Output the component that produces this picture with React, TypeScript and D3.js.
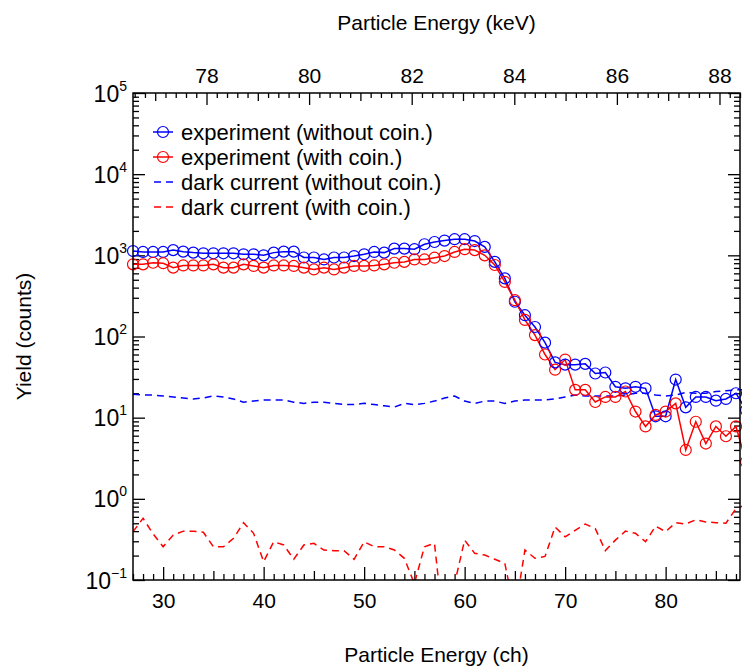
import React, { useEffect, useRef } from "react";
import * as d3 from "d3";

// ---------- data ----------
const channels = [
  27, 28, 29, 30, 31, 32, 33, 34, 35, 36, 37, 38, 39, 40, 41, 42, 43, 44, 45, 46,
  47, 48, 49, 50, 51, 52, 53, 54, 55, 56, 57, 58, 59, 60, 61, 62, 63, 64, 65, 66,
  67, 68, 69, 70, 71, 72, 73, 74, 75, 76, 77, 78, 79, 80, 81, 82, 83, 84, 85, 86,
  87, 88,
];

const expWithout = [
  1130, 1100, 1100, 1100, 1160, 1110, 1080, 1060, 1060, 1060, 1060, 1030, 1030, 1000, 1080, 1110, 1110, 940, 940, 890,
  940, 940, 980, 1030, 1100, 1080, 1210, 1210, 1190, 1370, 1460, 1520, 1580, 1580, 1500, 1270, 830, 520, 268, 183,
  131, 84, 48, 45, 45, 46, 35, 36, 24, 23, 24, 23, 10.4, 10.4, 29.5, 13.4, 18, 18, 16.2, 17,
  20, 12.4,
];

const expWith = [
  775, 775, 810, 800, 705, 750, 750, 750, 775, 705, 705, 775, 740, 705, 750, 750, 740, 705, 670, 705,
  670, 705, 740, 740, 750, 775, 810, 830, 890, 890, 935, 980, 1100, 1190, 1160, 1000, 760, 470, 280, 160,
  104, 60, 39, 52, 22, 22, 15.6, 18, 18, 21, 11.9, 7.8, 10.8, 11.9, 15, 4.0, 8.9, 4.8, 7.8, 5.9,
  7.8, 2.85,
];

const darkWithout = [
  19.5, 19, 19, 18.5, 18, 17.5, 17, 17.5, 18.5, 18, 17, 15.5, 16, 16.5, 16.5, 16.5, 15.5, 15, 15.5, 15.5,
  15, 14.5, 14.5, 15, 14.5, 14, 13.5, 15, 14.5, 15, 16, 17.5, 18.5, 16, 15, 16, 16, 15, 16, 16.5,
  16.5, 16.5, 17, 18, 19, 18.5, 18.5, 18.5, 18.5, 19, 20, 20, 19, 18.5, 19, 20.5, 20, 20, 21, 21.5,
  22, 22,
];

const darkWith = [
  0.394, 0.575, 0.37, 0.257, 0.358, 0.4, 0.4, 0.387, 0.257, 0.257, 0.326, 0.508, 0.376, 0.168, 0.296, 0.27, 0.18, 0.27, 0.283, 0.234,
  0.23, 0.23, 0.18, 0.296, 0.257, 0.257, 0.234, 0.185, 0.09, 0.257, 0.283, 0.02, 0.09, 0.31, 0.213, 0.203, 0.18, 0.16, 0.04, 0.234,
  0.185, 0.195, 0.45, 0.34, 0.41, 0.49, 0.43, 0.23, 0.31, 0.4, 0.376, 0.296, 0.46, 0.394, 0.508, 0.49, 0.55, 0.52, 0.508, 0.5,
  0.76, 0.84,
];

const bottomTicks = [30, 40, 50, 60, 70, 80];
const topTicks = [78, 80, 82, 84, 86, 88];
const yExponents = [5, 4, 3, 2, 1, 0, -1];

const legendItems = [
  { label: "experiment (without coin.)", color: "#0000ff", kind: "marker" },
  { label: "experiment (with coin.)", color: "#ff0000", kind: "marker" },
  { label: "dark current (without coin.)", color: "#0000ff", kind: "dash" },
  { label: "dark current (with coin.)", color: "#ff0000", kind: "dash" },
];

// ---------- layout ----------
const W = 742;
const H = 667;
const L = 133;
const R = 740;
const T = 93;
const B = 580;
const FONT = "'Liberation Sans', Arial, Helvetica, sans-serif";

export default function App() {
  const ref = useRef<SVGSVGElement>(null);

  useEffect(() => {
    const svg = d3.select(ref.current);
    svg.selectAll("*").remove();

    const x = d3.scaleLinear().domain([27, 87.4]).range([L, R]);
    const xTop = d3.scaleLinear().domain([76.567, 88.4]).range([L, R]);
    const y = d3.scaleLog().domain([0.1, 1e5]).range([B, T]);

    svg.append("rect").attr("width", W).attr("height", H).attr("fill", "#fff");

    const defs = svg.append("defs");
    defs
      .append("clipPath")
      .attr("id", "plotclip")
      .append("rect")
      .attr("x", L)
      .attr("y", T)
      .attr("width", W - L)
      .attr("height", B - T);

    const styleAxis = (g: any) => {
      g.select(".domain").remove();
      g.selectAll(".tick line").attr("stroke", "#000").attr("stroke-width", 1.3);
      g.selectAll(".tick text")
        .attr("font-family", FONT)
        .attr("font-size", 21)
        .attr("fill", "#000");
    };

    // bottom axis
    const minorCh = d3.range(27, 88).filter((c) => c % 5 !== 0);
    const midCh = d3.range(25, 88, 5).filter((c) => c % 10 !== 0 && c >= 27);
    svg
      .append("g")
      .attr("transform", `translate(0,${B})`)
      .call(d3.axisBottom(x).tickValues(minorCh).tickSize(-6).tickFormat(() => ""))
      .call(styleAxis);
    svg
      .append("g")
      .attr("transform", `translate(0,${B})`)
      .call(d3.axisBottom(x).tickValues(midCh).tickSize(-9).tickFormat(() => ""))
      .call(styleAxis);
    svg
      .append("g")
      .attr("transform", `translate(0,${B})`)
      .call(
        d3
          .axisBottom(x)
          .tickValues(bottomTicks)
          .tickSize(-13)
          .tickPadding(13)
          .tickFormat((d: any) => String(d))
      )
      .call(styleAxis);

    // top axis
    const topMinor = d3
      .range(76.6, 88.4, 0.2)
      .map((v) => Math.round(v * 10) / 10)
      .filter((v) => Math.abs(v - Math.round(v)) > 0.01);
    const topMid = [77, 79, 81, 83, 85, 87];
    svg
      .append("g")
      .attr("transform", `translate(0,${T})`)
      .call(d3.axisTop(xTop).tickValues(topMinor).tickSize(-5).tickFormat(() => ""))
      .call(styleAxis);
    svg
      .append("g")
      .attr("transform", `translate(0,${T})`)
      .call(d3.axisTop(xTop).tickValues(topMid).tickSize(-8).tickFormat(() => ""))
      .call(styleAxis);
    svg
      .append("g")
      .attr("transform", `translate(0,${T})`)
      .call(
        d3
          .axisTop(xTop)
          .tickValues(topTicks)
          .tickSize(-12)
          .tickPadding(10)
          .tickFormat((d: any) => String(d))
      )
      .call(styleAxis);

    // left / right axes
    const yMajor = yExponents.map((e) => Math.pow(10, e));
    const yMinor: number[] = [];
    for (let e = -1; e < 5; e++) for (let m = 2; m <= 9; m++) yMinor.push(m * Math.pow(10, e));

    svg
      .append("g")
      .attr("transform", `translate(${L},0)`)
      .call(d3.axisLeft(y).tickValues(yMinor).tickSize(-6).tickFormat(() => ""))
      .call(styleAxis);
    const leftMaj = svg
      .append("g")
      .attr("transform", `translate(${L},0)`)
      .call(d3.axisLeft(y).tickValues(yMajor).tickSize(-12).tickFormat(() => ""))
      .call(styleAxis);
    leftMaj.selectAll(".tick text").remove();
    leftMaj.selectAll(".tick").each(function (d: any) {
      const e = Math.round(Math.log10(d));
      const t = d3
        .select(this)
        .append("text")
        .attr("x", -6)
        .attr("y", 8)
        .attr("text-anchor", "end")
        .attr("font-family", FONT)
        .attr("font-size", 23)
        .attr("fill", "#000");
      t.append("tspan").text("10");
      t.append("tspan")
        .attr("font-size", 14)
        .attr("dy", -11)
        .text(e < 0 ? "\u2212" + Math.abs(e) : String(e));
    });

    svg
      .append("g")
      .attr("transform", `translate(${R},0)`)
      .call(d3.axisRight(y).tickValues(yMinor).tickSize(-6).tickFormat(() => ""))
      .call(styleAxis);
    svg
      .append("g")
      .attr("transform", `translate(${R},0)`)
      .call(d3.axisRight(y).tickValues(yMajor).tickSize(-12).tickFormat(() => ""))
      .call(styleAxis);

    // ---- data ----
    const plot = svg.append("g").attr("clip-path", "url(#plotclip)");
    const line = d3
      .line<number>()
      .x((_, i) => x(channels[i]))
      .y((v) => y(v));

    plot
      .append("path")
      .attr("d", line(darkWithout))
      .attr("fill", "none")
      .attr("stroke", "#0000ff")
      .attr("stroke-width", 1.5)
      .attr("stroke-dasharray", "7,5");
    plot
      .append("path")
      .attr("d", line(darkWith))
      .attr("fill", "none")
      .attr("stroke", "#ff0000")
      .attr("stroke-width", 1.5)
      .attr("stroke-dasharray", "7,5");

    const series = [
      { vals: expWithout, color: "#0000ff" },
      { vals: expWith, color: "#ff0000" },
    ];
    series.forEach((s) => {
      plot
        .append("path")
        .attr("d", line(s.vals))
        .attr("fill", "none")
        .attr("stroke", s.color)
        .attr("stroke-width", 1.5);
      svg
        .append("g")
        .selectAll("circle")
        .data(s.vals)
        .join("circle")
        .attr("cx", (_, i) => x(channels[i]))
        .attr("cy", (v) => y(v))
        .attr("r", 5.5)
        .attr("fill", "none")
        .attr("stroke", s.color)
        .attr("stroke-width", 1.2);
    });

    // frame
    svg
      .append("rect")
      .attr("x", L)
      .attr("y", T)
      .attr("width", R - L)
      .attr("height", B - T)
      .attr("fill", "none")
      .attr("stroke", "#000")
      .attr("stroke-width", 1.5);

    // ---- legend ----
    const lg = svg.append("g");
    legendItems.forEach((it, i) => {
      const cy = 132 + i * 25;
      const g = lg.append("g").attr("transform", `translate(0,${cy})`);
      if (it.kind === "marker") {
        g.append("line")
          .attr("x1", 153)
          .attr("x2", 173)
          .attr("stroke", it.color)
          .attr("stroke-width", 1.5);
        g.append("circle")
          .attr("cx", 163)
          .attr("r", 5.5)
          .attr("fill", "none")
          .attr("stroke", it.color)
          .attr("stroke-width", 1.2);
      } else {
        g.append("line")
          .attr("x1", 154)
          .attr("x2", 176)
          .attr("stroke", it.color)
          .attr("stroke-width", 1.5)
          .attr("stroke-dasharray", "7,5");
      }
      g.append("text")
        .attr("x", 181)
        .attr("y", 7.5)
        .attr("font-family", FONT)
        .attr("font-size", 22)
        .attr("fill", "#000")
        .text(it.label);
    });

    // ---- titles ----
    svg
      .append("text")
      .attr("x", (L + R) / 2)
      .attr("y", 30)
      .attr("text-anchor", "middle")
      .attr("font-family", FONT)
      .attr("font-size", 21)
      .text("Particle Energy (keV)");
    svg
      .append("text")
      .attr("x", (L + R) / 2)
      .attr("y", 662)
      .attr("text-anchor", "middle")
      .attr("font-family", FONT)
      .attr("font-size", 21)
      .text("Particle Energy (ch)");
    svg
      .append("text")
      .attr("transform", `translate(31,${(T + B) / 2}) rotate(-90)`)
      .attr("text-anchor", "middle")
      .attr("font-family", FONT)
      .attr("font-size", 21)
      .text("Yield (counts)");
  }, []);

  return (
    <svg
      ref={ref}
      width={W}
      height={H}
      style={{ position: "absolute", left: 0, top: 0, display: "block" }}
    />
  );
}
